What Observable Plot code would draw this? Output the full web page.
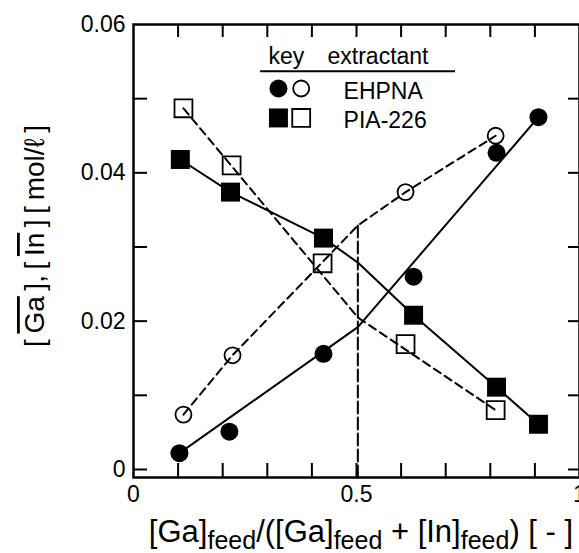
<!DOCTYPE html>
<html><head><meta charset="utf-8">
<script src="https://cdn.jsdelivr.net/npm/d3@7"></script>
<script src="https://cdn.jsdelivr.net/npm/@observablehq/plot@0.6"></script>
<style>
html,body{margin:0;padding:0;background:#fff;overflow:hidden;}
#chart{width:579px;height:553px;overflow:hidden;}
</style></head><body><div id="chart"></div>
<script>
// ---- measured points ----
const ehpnaFilledX = [0.103, 0.215, 0.426, 0.628, 0.814, 0.908];
const ehpnaFilledY = [0.0022, 0.0051, 0.0156, 0.0260, 0.0427, 0.0475];
const ehpnaOpenX   = [0.112, 0.222, 0.610, 0.812];
const ehpnaOpenY   = [0.0074, 0.0154, 0.0374, 0.0450];
const piaFilledX   = [0.105, 0.2175, 0.426, 0.628, 0.814, 0.908];
const piaFilledY   = [0.0418, 0.0374, 0.0312, 0.0208, 0.0111, 0.0061];
const piaOpenX     = [0.112, 0.220, 0.424, 0.610, 0.812];
const piaOpenY     = [0.0487, 0.0410, 0.0278, 0.0169, 0.0080];
// ---- model curves (vertices) ----
const ehpnaSolidLineX = [0.103, 0.503, 0.908];
const ehpnaSolidLineY = [0.0022, 0.0192, 0.0475];
const ehpnaDashLineX  = [0.112, 0.222, 0.503, 0.610, 0.812];
const ehpnaDashLineY  = [0.0074, 0.0154, 0.0329, 0.0374, 0.0450];
const piaSolidLineX   = [0.105, 0.2175, 0.426, 0.503, 0.628, 0.814, 0.908];
const piaSolidLineY   = [0.0418, 0.0374, 0.0312, 0.0279, 0.0208, 0.0111, 0.0061];
const piaDashLineX    = [0.112, 0.503, 0.812];
const piaDashLineY    = [0.0487, 0.0205, 0.0080];
const feedLineX = [0.503, 0.503];
const feedLineY = [-0.00108, 0.0329];
// ---- ticks ----
const xTickLabels = [0, 0.5, 1];
const yTickLabels = [0, 0.02, 0.04, 0.06];
const xMinorTicks = [0.1,0.2,0.3,0.4,0.5,0.6,0.7,0.8,0.9];
const yMinorTicks = [0,0.01,0.02,0.03,0.04,0.05];
// ---- legend ----
const legendNames = ["EHPNA", "PIA-226"];
const legendHeader = ["key", "extractant"];

const zip = (xs, ys) => xs.map((x, i) => ({x, y: ys[i]}));

const W = 579, H = 553;
const M = {left: 133, right: 0, top: 24, bottom: 76};
const innerW = W - M.left - M.right, innerH = H - M.top - M.bottom;

// legend layout (data coordinates)
const L = {filledX: 0.325, openX: 0.376, textX: 0.471, symY: [0.05137, 0.0474], textY: [0.0510, 0.0470],
           headerX: [0.3027, 0.435], headerY: 0.0557, lineX1: 0.285, lineX2: 0.722, lineY: 0.0537};

const dash = "8,5";
const plot = Plot.plot({
  width: W, height: H,
  marginLeft: M.left, marginRight: M.right, marginTop: M.top, marginBottom: M.bottom,
  x: {domain: [0, 1], ticks: xTickLabels, tickSize: 0, tickPadding: 8, label: null,
      tickFormat: d => d === 0 ? "0" : d === 1 ? "1" : String(d)},
  y: {domain: [-0.00108, 0.06], ticks: yTickLabels, tickSize: 0, tickPadding: 8, label: null,
      tickFormat: d => d === 0 ? "0" : d.toFixed(2)},
  style: {fontFamily: '"Liberation Sans", Arial, Helvetica, sans-serif', fontSize: "23px", background: "white", color: "black"},
  marks: [
    // inward ticks
    Plot.ruleY(yMinorTicks, {insetRight: innerW - 14, stroke: "black", strokeWidth: 2}),
    Plot.ruleY(yMinorTicks, {insetLeft: innerW - 11, stroke: "black", strokeWidth: 2}),
    Plot.ruleX(xMinorTicks, {insetTop: innerH - 14, stroke: "black", strokeWidth: 2}),
    Plot.ruleX(xMinorTicks, {insetBottom: innerH - 13, stroke: "black", strokeWidth: 2}),
    // model lines
    Plot.line(zip(feedLineX, feedLineY), {x: "x", y: "y", stroke: "black", strokeWidth: 2, strokeDasharray: "12,4"}),
    Plot.line(zip(ehpnaSolidLineX, ehpnaSolidLineY), {x: "x", y: "y", stroke: "black", strokeWidth: 2}),
    Plot.line(zip(ehpnaDashLineX, ehpnaDashLineY), {x: "x", y: "y", stroke: "black", strokeWidth: 2, strokeDasharray: dash}),
    Plot.line(zip(piaSolidLineX, piaSolidLineY), {x: "x", y: "y", stroke: "black", strokeWidth: 2}),
    Plot.line(zip(piaDashLineX, piaDashLineY), {x: "x", y: "y", stroke: "black", strokeWidth: 2, strokeDasharray: dash}),
    // points
    Plot.dot(zip(ehpnaFilledX, ehpnaFilledY), {x: "x", y: "y", r: 9, fill: "black", stroke: "none"}),
    Plot.dot(zip(ehpnaOpenX, ehpnaOpenY), {x: "x", y: "y", r: 8, fill: "none", stroke: "black", strokeWidth: 1.8}),
    Plot.dot(zip(piaFilledX, piaFilledY), {x: "x", y: "y", r: 10.7, symbol: "square", fill: "black", stroke: "none"}),
    Plot.dot(zip(piaOpenX, piaOpenY), {x: "x", y: "y", r: 10.1, symbol: "square", fill: "none", stroke: "black", strokeWidth: 1.8}),
    // legend
    Plot.text(legendHeader, {x: (d, i) => L.headerX[i], y: () => L.headerY, text: d => d, textAnchor: "start", fontSize: 23}),
    Plot.ruleY([L.lineY], {x1: L.lineX1, x2: L.lineX2, stroke: "black", strokeWidth: 2}),
    Plot.dot([legendNames[0]], {x: () => L.filledX, y: () => L.symY[0], r: 9, fill: "black", stroke: "none"}),
    Plot.dot([legendNames[0]], {x: () => L.openX, y: () => L.symY[0], r: 8, fill: "none", stroke: "black", strokeWidth: 1.8}),
    Plot.dot([legendNames[1]], {x: () => L.filledX, y: () => L.symY[1], r: 10.7, symbol: "square", fill: "black", stroke: "none"}),
    Plot.dot([legendNames[1]], {x: () => L.openX, y: () => L.symY[1], r: 10.1, symbol: "square", fill: "none", stroke: "black", strokeWidth: 1.8}),
    Plot.text(legendNames, {x: () => L.textX, y: (d, i) => L.textY[i], text: d => d, textAnchor: "start", fontSize: 23}),
    Plot.frame({stroke: "black", strokeWidth: 2.5})
  ]
});
document.getElementById("chart").appendChild(plot);

const svg = d3.select(plot);
// x axis title with subscripts
const xt = svg.append("text").attr("x", 361).attr("y", 542).attr("text-anchor", "middle")
  .style("font-size", "31px").style("white-space", "pre").attr("fill", "black");
const parts = [["[Ga]", 0], ["feed", 1], ["/([Ga]", 0], ["feed", 1], [" + [In]", 0], ["feed", 1], [") [ - ]", 0]];
let prevSub = 0;
for (const [t, sub] of parts) {
  const ts = xt.append("tspan").text(t);
  if (sub) ts.style("font-size", "25px");
  const dy = (sub ? 7 : 0) - (prevSub ? 7 : 0);
  if (dy) ts.attr("dy", dy);
  prevSub = sub;
}
// y axis title with overlines
const sp = "\u2009";
const yt = svg.append("text").attr("transform", "translate(44,236) rotate(-90)").attr("text-anchor", "middle")
  .style("font-size", "28px").style("white-space", "pre").attr("fill", "black");
yt.append("tspan").text("[" + sp);
yt.append("tspan").text("Ga").style("text-decoration", "overline");
yt.append("tspan").text(sp + "]," + sp + "[" + sp);
yt.append("tspan").text("In").style("text-decoration", "overline");
yt.append("tspan").text(sp + "]" + sp + "[" + sp + "mol/\u2113" + sp + "]");
</script></body></html>
